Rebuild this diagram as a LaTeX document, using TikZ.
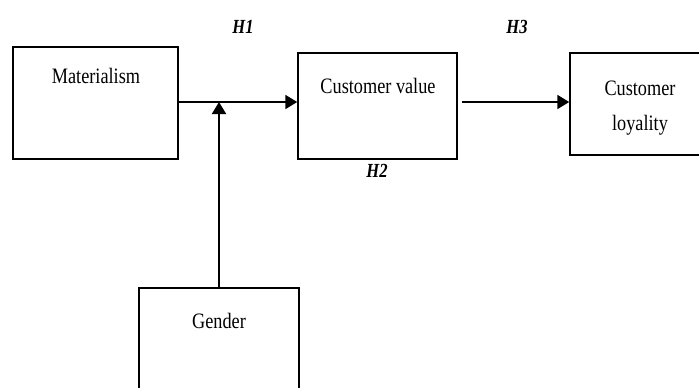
\documentclass[tikz,border=0pt]{standalone}
\usepackage{fontspec}
\setmainfont{Liberation Serif}[FakeStretch=0.83]
\usetikzlibrary{arrows.meta}
\tikzset{
  box/.style={draw, line width=1.5pt, rectangle, inner sep=0pt},
  txt/.style={anchor=base, inner sep=0pt, font=\fontsize{22}{35}\selectfont},
  hyp/.style={anchor=base, inner sep=0pt, font=\fontsize{20}{24}\selectfont\bfseries\itshape},
  arr/.style={line width=2pt, -{Triangle[length=12pt,width=14pt]}}
}
\begin{document}
\begin{tikzpicture}[x=1pt,y=-1pt]
\useasboundingbox (0,0) rectangle (699,388);
\node[box, minimum width=165pt, minimum height=112pt] (mat) at (95.5,103) {};
\node[box, minimum width=159pt, minimum height=106pt] (cv) at (377.5,106) {};
\node[box, minimum width=150pt, minimum height=102pt] (cl) at (645,104) {};
\node[box, minimum width=160pt, minimum height=152pt] (gen) at (219,364) {};
\node[txt] (tmat) at (96,83) {Materialism};
\node[txt] (tcv) at (378,93) {Customer value};
\node[txt] (tcl1) at (640,95) {Customer};
\node[txt] (tcl2) at (640,130) {loyality};
\node[txt] (tgen) at (219,328) {Gender};
\node[hyp] (h1) at (243,33) {H1};
\node[hyp] (h2) at (377,177) {H2};
\node[hyp] (h3) at (517,33) {H3};
\coordinate (s1) at (178,102);
\coordinate (j) at (219,102);
\coordinate (s3) at (462,102);
\draw[arr] (s1) -- (s1 -| cv.west);
\draw[arr] (gen.north) -- (j);
\draw[arr] (s3) -- (s3 -| cl.west);
\end{tikzpicture}
\end{document}
